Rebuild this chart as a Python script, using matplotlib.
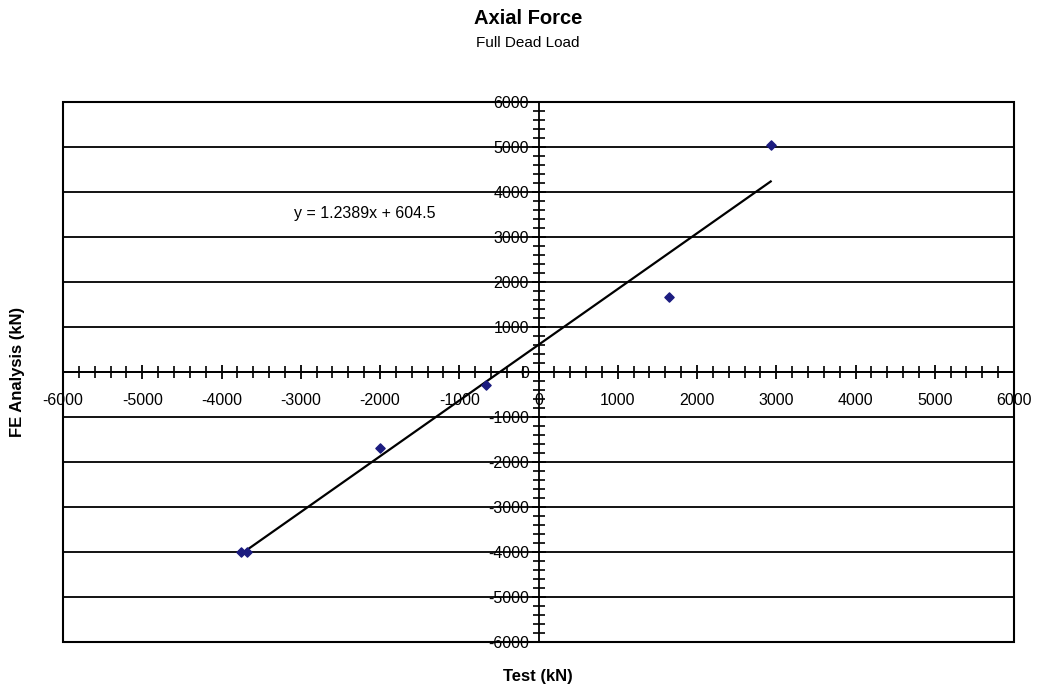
import numpy as np
import matplotlib
matplotlib.use("Agg")
import matplotlib.pyplot as plt
from matplotlib.patches import Rectangle
from matplotlib.ticker import MultipleLocator

plt.rcParams['font.family'] = ['Liberation Sans', 'DejaVu Sans']
plt.rcParams['axes.unicode_minus'] = False

# test vs FE analysis, kN
test_kn = [-3750, -3680, -2000, -660, 1650, 2930]
fe_kn = [-3990, -3990, -1680, -280, 1660, 5040]

# Excel linear trendline as printed on the chart
slope = 1.2389
intercept = 604.5
eq_text = "y = 1.2389x + 604.5"

x_ticks = np.arange(-6000, 6001, 1000)
y_ticks = np.arange(-6000, 6001, 1000)

fig = plt.figure(figsize=(10.4, 6.91), dpi=100)
ax = fig.add_axes([63/1040, 1 - 642/691, 951/1040, 540/691])

ax.set_xlim(-6000, 6000)
ax.set_ylim(-6000, 6000)

# horizontal gridlines
for yv in y_ticks:
    ax.axhline(yv, color='black', lw=1.3, zorder=1)

# axes through the origin
ax.spines['left'].set_position(('data', 0))
ax.spines['bottom'].set_position(('data', 0))
ax.spines['top'].set_visible(False)
ax.spines['right'].set_visible(False)
for s in ['left', 'bottom']:
    ax.spines[s].set_linewidth(1.3)
    ax.spines[s].set_zorder(3)
ax.add_patch(Rectangle((0, 0), 1, 1, transform=ax.transAxes, fill=False,
                       edgecolor='black', lw=1.5, zorder=4, clip_on=False))

ax.set_xticks(x_ticks)
ax.set_yticks(y_ticks)
ax.xaxis.set_minor_locator(MultipleLocator(200))
ax.yaxis.set_minor_locator(MultipleLocator(200))
ax.tick_params(which='major', direction='inout', length=10, width=1.3, labelsize=11.5, pad=10)
ax.tick_params(which='minor', direction='inout', length=8, width=1.2)
ax.tick_params(axis='y', pad=2)

# data + trendline
ax.scatter(test_kn, fe_kn, marker='D', s=22, color='#1c1c80', zorder=5)
xx = np.array([min(test_kn), max(test_kn)])
ax.plot(xx, slope * xx + intercept, color='black', lw=1.6, zorder=4)
ax.text(-3080, 3530, eq_text, fontsize=11.5, va='center', ha='left')

fig.text(528/1040, 1 - 19/691, "Axial Force", ha='center', va='center',
         fontsize=14.5, fontweight='bold')
fig.text(528/1040, 1 - 43/691, "Full Dead Load", ha='center', va='center', fontsize=11)
fig.text(538/1040, 1 - 676/691, "Test (kN)", ha='center', va='center',
         fontsize=12, fontweight='bold')
fig.text(18/1040, 1 - 372/691, "FE Analysis (kN)", ha='center', va='center',
         rotation=90, fontsize=12, fontweight='bold')

fig.savefig("out.png", dpi=100)
